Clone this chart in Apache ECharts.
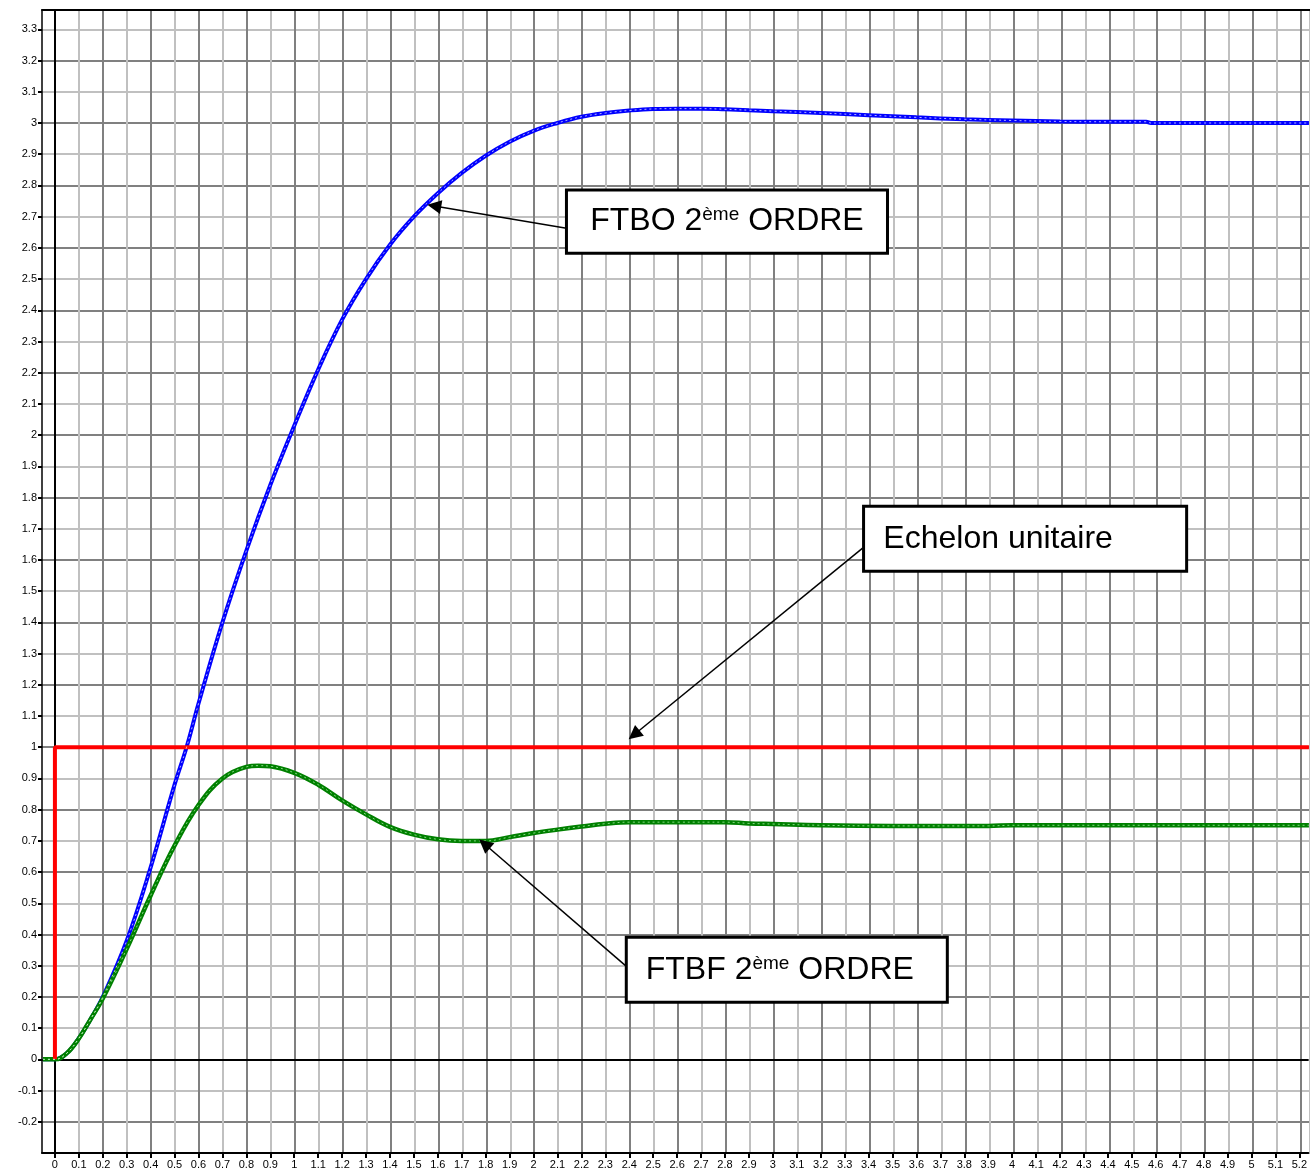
<!DOCTYPE html>
<html>
<head>
<meta charset="utf-8">
<script src="https://cdn.jsdelivr.net/npm/echarts@6/dist/echarts.min.js"></script>
<style>
  html, body { margin: 0; padding: 0; background: #fff; }
  #chart { width: 1310px; height: 1176px; }
</style>
</head>
<body>
<div id="chart"></div>
<script>
// graduations
const xTicks = [0, 0.1, 0.2, 0.3, 0.4, 0.5, 0.6, 0.7, 0.8, 0.9, 1, 1.1, 1.2, 1.3, 1.4, 1.5, 1.6, 1.7, 1.8, 1.9,
  2, 2.1, 2.2, 2.3, 2.4, 2.5, 2.6, 2.7, 2.8, 2.9, 3, 3.1, 3.2, 3.3, 3.4, 3.5, 3.6, 3.7, 3.8, 3.9,
  4, 4.1, 4.2, 4.3, 4.4, 4.5, 4.6, 4.7, 4.8, 4.9, 5, 5.1, 5.2];
const yTicks = [-0.2, -0.1, 0, 0.1, 0.2, 0.3, 0.4, 0.5, 0.6, 0.7, 0.8, 0.9, 1, 1.1, 1.2, 1.3, 1.4, 1.5, 1.6, 1.7,
  1.8, 1.9, 2, 2.1, 2.2, 2.3, 2.4, 2.5, 2.6, 2.7, 2.8, 2.9, 3, 3.1, 3.2, 3.3];

// echelon unitaire
const tEchelon = [0, 0, 5.24];
const vEchelon = [0, 1, 1];

const tFtbo = [-0.05, 0, 0.05, 0.1, 0.15, 0.2, 0.3, 0.4, 0.5, 0.55, 0.6, 0.7, 0.8, 0.9, 1.0, 1.1, 1.2, 1.3, 1.4,
  1.5, 1.6, 1.7, 1.8, 1.9, 2.0, 2.1, 2.2, 2.3, 2.4, 2.5, 2.6, 2.7, 2.8, 2.9, 3.0, 3.2, 3.4, 3.6, 3.8, 4.0,
  4.2, 4.4, 4.56, 4.58, 5.24];
const vFtbo = [0, 0, 0.02, 0.068, 0.13, 0.2, 0.38, 0.615, 0.88, 1.0, 1.14, 1.4, 1.63, 1.84, 2.03, 2.21, 2.37, 2.5, 2.61,
  2.7, 2.775, 2.84, 2.895, 2.94, 2.975, 3.0, 3.02, 3.032, 3.04, 3.045, 3.046, 3.046, 3.044, 3.041, 3.038, 3.032, 3.025, 3.018, 3.012, 3.008,
  3.005, 3.004, 3.004, 3.0, 3.0];

// FTBF 2eme ordre (courbe verte)
const tFtbf = [-0.05, 0, 0.05, 0.1, 0.15, 0.2, 0.3, 0.4, 0.5, 0.6, 0.7, 0.8, 0.85, 0.9, 1.0, 1.1, 1.2, 1.3, 1.4,
  1.5, 1.6, 1.7, 1.8, 1.9, 2.0, 2.1, 2.2, 2.3, 2.4, 2.6, 2.8, 2.9, 3.0, 3.2, 3.5, 3.9, 4.0, 5.24];
const vFtbf = [0, 0, 0.02, 0.067, 0.13, 0.195, 0.354, 0.525, 0.685, 0.815, 0.9, 0.937, 0.941, 0.939, 0.918, 0.88, 0.83, 0.785, 0.745,
  0.72, 0.705, 0.7, 0.7, 0.712, 0.725, 0.736, 0.746, 0.755, 0.76, 0.76, 0.76, 0.756, 0.754, 0.75, 0.748, 0.748, 0.75, 0.75];

const zip = (t, v) => t.map((x, i) => [x, v[i]]);
const echelon = zip(tEchelon, vEchelon);
const ftbo = zip(tFtbo, vFtbo);
const ftbf = zip(tFtbf, vFtbf);

const font = '"Liberation Sans", Arial, sans-serif';
const fonce = '#808080';
const clair = '#c0c0c0';

function courbe(data, color, width, dots) {
  return [
    { type: 'line', data, showSymbol: false, smooth: 0.4, silent: true, z: 3,
      lineStyle: { color, width } },
    { type: 'line', data, showSymbol: false, smooth: 0.4, silent: true, z: 4,
      lineStyle: { color: dots, width: 1, type: [2, 3] } },
  ];
}

function boite(coin1, coin2, text, dx) {
  return [
    { coord: coin1, label: { offset: [dx, 0], formatter: text } },
    { coord: coin2 },
  ];
}

function fleche(from, to) {
  return [{ coord: from }, { coord: to }];
}

// axe caché qui ne sert qu'au quadrillage
function axeGrille(gridIndex, min, max, colors) {
  return {
    type: 'value', gridIndex, min, max, interval: colors ? 0.1 : undefined,
    axisLine: { show: false }, axisTick: { show: false }, axisLabel: { show: false },
    splitLine: { show: !!colors, lineStyle: { color: colors, width: 2 } },
  };
}

const options = {
  animation: false,
  grid: [
    { left: 42, right: -2, top: 10, bottom: 23 },
    { left: 42, right: -2, top: 10, bottom: 23 },
    { left: 55, right: -2, top: 10, bottom: 23 },
  ],
  xAxis: [
    {
      type: 'value', min: -0.054, max: 5.2375,
      axisLine: { onZero: false, lineStyle: { color: '#000', width: 2 } },
      axisTick: { customValues: xTicks, length: 5, lineStyle: { color: '#000', width: 2 } },
      axisLabel: { customValues: xTicks, interval: 0, margin: 6, fontSize: 11, color: '#000', fontFamily: font,
        formatter: (v) => String(v) },
      splitLine: { show: false },
    },
    {
      type: 'value', gridIndex: 1, min: -0.054, max: 5.2375, position: 'top',
      axisLine: { onZero: false, lineStyle: { color: '#000', width: 2 } },
      axisTick: { show: false }, axisLabel: { show: false }, splitLine: { show: false },
    },
    axeGrille(2, 0, 5.2375, [fonce, clair]),
  ],
  yAxis: [
    {
      type: 'value', min: -0.3, max: 3.362,
      axisLine: { onZero: false, lineStyle: { color: '#000', width: 1.5 } },
      axisTick: { customValues: yTicks, length: 4, lineStyle: { color: '#000', width: 2 } },
      axisLabel: { customValues: yTicks, interval: 0, margin: 5, fontSize: 11, color: '#000', fontFamily: font,
        formatter: (v) => String(v) },
      splitLine: { show: false },
    },
    axeGrille(1, -0.3, 3.362, [clair, fonce]),
    axeGrille(2, -0.3, 3.362, null),
  ],
  series: [
    // axes x=0 et y=0
    { type: 'line', data: [], z: 2, silent: true,
      markLine: { z: 2, silent: true, symbol: 'none', animation: false, label: { show: false },
        lineStyle: { color: '#000', width: 2, type: 'solid' },
        data: [{ xAxis: 0 }, { yAxis: 0 }] } },
    ...courbe(ftbo, '#0000ff', 4, 'rgba(255,255,255,0.7)'),
    ...courbe(ftbf, '#008000', 4.5, 'rgba(190,255,190,0.7)'),
    { type: 'line', data: echelon, showSymbol: false, silent: true, z: 3,
      lineStyle: { color: '#ff0000', width: 4 } },
    // annotations
    { type: 'line', data: [], z: 6, silent: true,
      markArea: { z: 6, silent: true, animation: false,
        itemStyle: { color: '#fff', borderColor: '#000', borderWidth: 3, opacity: 1 },
        label: {
          show: true, position: 'inside', color: '#000', fontSize: 32, fontFamily: font,
          rich: { sup: { fontSize: 19, color: '#000', fontFamily: font, verticalAlign: 'top' } },
        },
        data: [
          boite([2.1375, 2.785], [3.479, 2.583], 'FTBO 2{sup|ème} ORDRE', 0),
          boite([3.379, 1.772], [4.729, 1.564], 'Echelon unitaire', -27),
          boite([2.3875, 0.391], [3.729, 0.183], 'FTBF 2{sup|ème} ORDRE', -7),
        ] },
      markLine: { z: 7, silent: true, animation: false, symbol: ['none', 'triangle'], symbolSize: 14,
        label: { show: false }, lineStyle: { color: '#000', width: 1.5, type: 'solid' },
        data: [
          fleche([2.1375, 2.663], [1.585, 2.734]),
          fleche([3.375, 1.638], [2.42, 1.04]),
          fleche([2.383, 0.301], [1.795, 0.69]),
        ] } },
  ],
};

const chart = echarts.init(document.getElementById('chart'));
chart.setOption(options);
window.addEventListener('resize', function () {
  chart.resize();
});
</script>
</body>
</html>
